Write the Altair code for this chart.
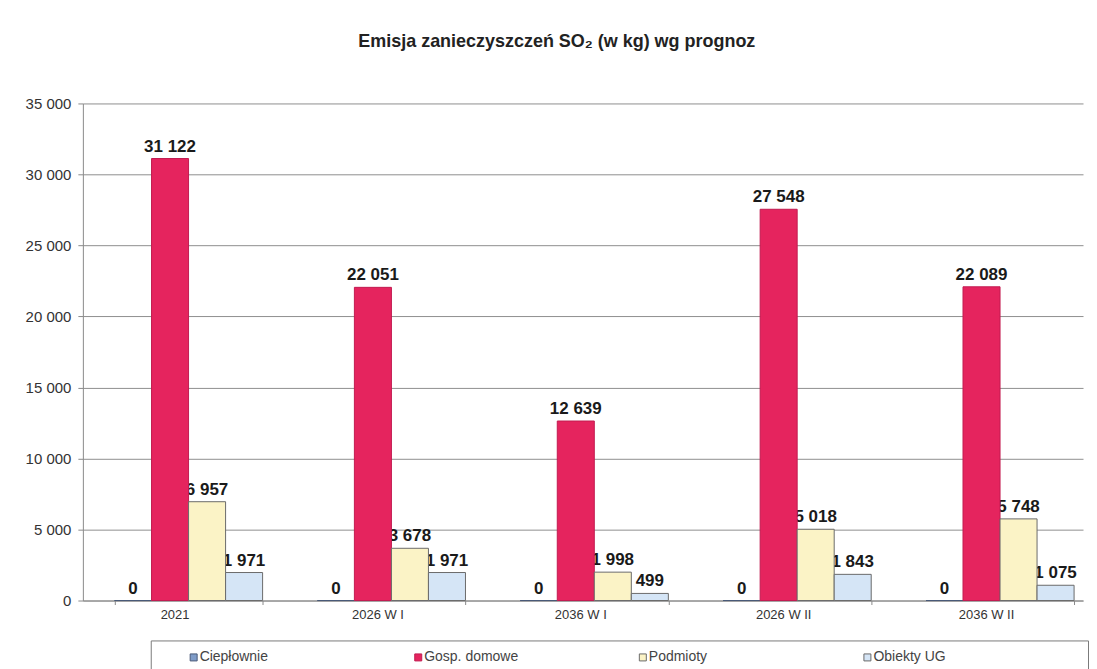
import altair as alt
import pandas as pd

categories = ["2021", "2026 W I", "2036 W I", "2026 W II", "2036 W II"]
series = ["Ciepłownie", "Gosp. domowe", "Podmioty", "Obiekty UG"]
cieplownie = [0, 0, 0, 0, 0]
gosp_domowe = [31122, 22051, 12639, 27548, 22089]
podmioty = [6957, 3678, 1998, 5018, 5748]
obiekty_ug = [1971, 1971, 499, 1843, 1075]
y_ticks = [0, 5000, 10000, 15000, 20000, 25000, 30000, 35000]

fill_colors = ["#7F9CC8", "#E5245E", "#FBF3C6", "#D5E5F6"]
stroke_colors = ["#4A5A78", "#C21B50", "#6A6A6A", "#6A6A6A"]

FONT = "Liberation Sans"

rows = []
for s, vals in zip(series, [cieplownie, gosp_domowe, podmioty, obiekty_ug]):
    for c, v in zip(categories, vals):
        rows.append({"kategoria": c, "seria": s, "wartosc": v,
                     "etykieta": f"{v:,}".replace(",", " ")})
df = pd.DataFrame(rows)

x = alt.X(
    "kategoria:N", sort=categories,
    scale=alt.Scale(domain=categories, paddingInner=0.27, paddingOuter=0.1, align=0.78),
    axis=alt.Axis(title=None, labelAngle=0, labelFont=FONT, labelFontSize=13,
                  labelColor="#333333", domainColor="#8a8a8a", tickColor="#8a8a8a",
                  tickBand="extent", tickSize=4, labelPadding=4, labelOffset=-14, grid=False),
)
xo = alt.XOffset("seria:N", sort=series,
                 scale=alt.Scale(domain=series, paddingInner=0, paddingOuter=0))
y = alt.Y(
    "wartosc:Q",
    scale=alt.Scale(domain=[0, 35000], nice=False),
    axis=alt.Axis(title=None, values=y_ticks,
                  labelExpr="replace(format(datum.value, ','), ',', ' ')",
                  labelFont=FONT, labelFontSize=15, labelColor="#333333",
                  grid=True, gridColor="#8f8f8f", gridWidth=1,
                  domainColor="#8a8a8a", tickColor="#8a8a8a", tickSize=5, labelPadding=7),
)

fill = alt.Fill("seria:N", scale=alt.Scale(domain=series, range=fill_colors), legend=None)
stroke = alt.Stroke("seria:N", scale=alt.Scale(domain=series, range=stroke_colors), legend=None)

base = alt.Chart(df)
labels = base.mark_text(font=FONT, fontSize=17, fontWeight="bold", color="#1a1a1a",
                        baseline="alphabetic", dy=-7).encode(
    x=x, xOffset=xo, y=y, text="etykieta:N")
bars = base.mark_bar(strokeWidth=1).encode(x=x, xOffset=xo, y=y, fill=fill, stroke=stroke)
main = alt.layer(labels, bars).properties(width=1002, height=498)

leg_df = pd.DataFrame({"seria": series})
lx = alt.X("seria:N", sort=series,
           scale=alt.Scale(type="band", domain=series, range=[0, 900],
                           paddingInner=0, paddingOuter=0),
           axis=None, bandPosition=0)
leg_sq = alt.Chart(leg_df).mark_square(size=49, xOffset=43, strokeWidth=1, opacity=1).encode(
    x=lx, fill=fill, stroke=stroke)
leg_tx = alt.Chart(leg_df).mark_text(align="left", baseline="middle", xOffset=49, font=FONT,
                                     fontSize=14, color="#444444").encode(x=lx, text="seria:N")
legend = alt.layer(leg_sq, leg_tx).properties(
    width=939, height=34, view=alt.ViewBackground(stroke="#7a7a7a", strokeWidth=1))

spacer = alt.Chart(leg_df).mark_point(opacity=0).encode(
    x=alt.X("seria:N", axis=None)).properties(
    width=51, height=34, view=alt.ViewBackground(stroke=None))

chart = alt.vconcat(
    main,
    alt.hconcat(spacer, legend, spacing=16),
    spacing=18,
).properties(
    title=alt.TitleParams("Emisja zanieczyszczeń SO₂ (w kg) wg prognoz", font=FONT,
                          fontSize=18, fontWeight="bold", color="#222222",
                          anchor="middle", offset=46),
    padding={"left": 17, "top": 24, "right": 0, "bottom": 0},
).configure_view(stroke=None)

chart.save("out.html", embed_options={"renderer": "svg", "actions": False})
